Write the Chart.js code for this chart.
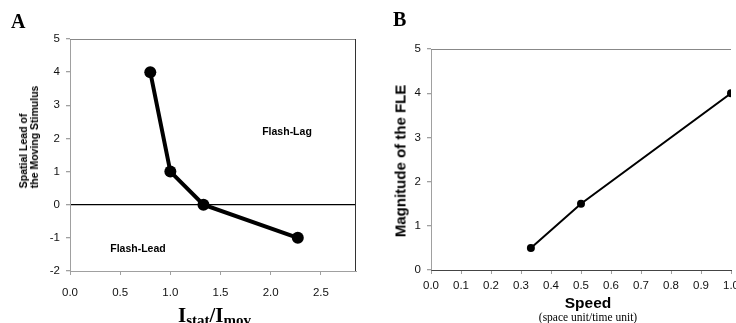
<!DOCTYPE html>
<html>
<head>
<meta charset="utf-8">
<script src="https://cdn.jsdelivr.net/npm/chart.js@4/dist/chart.umd.min.js"></script>
<style>
  body { margin: 0; background: #fff; }
  #wrap { position: relative; width: 736px; height: 323px; overflow: hidden; background: #fff; }
  canvas { position: absolute; top: 0; }
  .lbl { position: absolute; white-space: nowrap; color: #000; }
  .panel { font: bold 20px "Liberation Serif", serif; }
  .note { font: bold 10.5px "Liberation Sans", Arial, sans-serif; transform: translate(-50%, -50%); }
  .rot { transform: translate(-50%, -50%) rotate(-90deg); }
</style>
</head>
<body>
<div id="wrap">
  <canvas id="chartA" width="370" height="323" style="left:0"></canvas>
  <canvas id="chartB" width="400" height="323" style="left:370px"></canvas>

  <div class="lbl panel" style="left:11px; top:10px;">A</div>
  <div class="lbl panel" style="left:393px; top:8px;">B</div>

  <div class="lbl rot" style="left:29px; top:137px; text-align:left; font: bold 10.5px 'Liberation Sans', Arial, sans-serif; line-height: 11px;">Spatial Lead of<br>the Moving Stimulus</div>
  <div class="lbl" style="left:178px; top:303px; font: bold 21px 'Liberation Serif', serif;">I<span style="font-size:15px; position:relative; top:3px;">stat</span>/I<span style="font-size:15px; position:relative; top:3px;">mov</span></div>
  <div class="lbl note" style="left:287px; top:131px;">Flash-Lag</div>
  <div class="lbl note" style="left:138px; top:248px;">Flash-Lead</div>

  <div class="lbl rot" style="left:400px; top:161px; font: bold 15px 'Liberation Sans', Arial, sans-serif;">Magnitude of the FLE</div>
  <div class="lbl" style="left:588px; top:303px; transform: translate(-50%, -50%); font: bold 15.5px 'Liberation Sans', Arial, sans-serif;">Speed</div>
  <div class="lbl" style="left:588px; top:317px; transform: translate(-50%, -50%); font: 11.5px 'Liberation Serif', serif;">(space unit/time unit)</div>
</div>

<script>
// Panel A: intensity ratio vs spatial lead
const ratioA = [0.8, 1.0, 1.33, 2.27];
const leadA = [4, 1, 0, -1];

// Panel B: speed vs FLE magnitude
const speedB = [0.333, 0.5, 1.0];
const fleB = [0.5, 1.5, 4.0];

const tickFont = { family: "'Liberation Sans', Arial, sans-serif", size: 11.5 };
const axisGray = "#a0a0a0";

const toPoints = (xs, ys) => xs.map((x, i) => ({ x: x, y: ys[i] }));

// draws the frame lines on top and right of the plot
const framePlugin = {
  id: "frame",
  afterDraw: (chart, args, opts) => {
    const { ctx, chartArea } = chart;
    ctx.save();
    ctx.lineWidth = 1;
    ctx.strokeStyle = opts.top || axisGray;
    ctx.beginPath();
    ctx.moveTo(chartArea.left, chartArea.top + 0.5);
    ctx.lineTo(chartArea.right, chartArea.top + 0.5);
    ctx.stroke();
    if (opts.right) {
      ctx.strokeStyle = opts.right;
      ctx.beginPath();
      ctx.moveTo(chartArea.right - 0.5, chartArea.top);
      ctx.lineTo(chartArea.right - 0.5, chartArea.bottom);
      ctx.stroke();
    }
    ctx.restore();
  },
};

const makeChart = (id, cfg) => {
  const ctx = document.getElementById(id).getContext("2d");
  return new Chart(ctx, {
    type: "line",
    data: {
      datasets: [
        {
          data: cfg.points,
          borderColor: "#000",
          backgroundColor: "#000",
          borderWidth: cfg.lineWidth,
          pointRadius: cfg.pointRadius,
          pointBorderWidth: 0,
          tension: 0,
        },
      ],
    },
    options: {
      responsive: false,
      animation: false,
      layout: { padding: cfg.padding },
      plugins: {
        legend: { display: false },
        tooltip: { enabled: false },
        frame: cfg.frame,
      },
      scales: {
        x: {
          type: "linear",
          min: cfg.xMin,
          max: cfg.xMax,
          afterFit: (scale) => { scale.height = cfg.xHeight; },
          border: { color: cfg.xBorder, width: 1 },
          grid: { drawOnChartArea: false, tickLength: 4, color: axisGray },
          ticks: {
            stepSize: cfg.xStep,
            includeBounds: false,
            padding: cfg.xPad,
            color: "#111",
            font: tickFont,
            maxRotation: 0,
            callback: (v) => v.toFixed(1),
          },
        },
        y: {
          type: "linear",
          min: cfg.yMin,
          max: cfg.yMax,
          afterFit: (scale) => { scale.width = cfg.yWidth; },
          border: { color: axisGray, width: 1 },
          grid: {
            drawOnChartArea: cfg.zeroLine,
            tickLength: 4,
            tickColor: axisGray,
            color: (c) => (c.tick && c.tick.value === 0 ? "#000" : "rgba(0,0,0,0)"),
            lineWidth: 1.3,
          },
          ticks: {
            stepSize: 1,
            padding: 6,
            color: "#111",
            font: tickFont,
          },
        },
      },
    },
    plugins: [framePlugin],
  });
};

document.addEventListener("DOMContentLoaded", () => {
  makeChart("chartA", {
    points: toPoints(ratioA, leadA),
    lineWidth: 4,
    pointRadius: 6,
    padding: { top: 39, right: 14, left: 0, bottom: 0 },
    xMin: 0, xMax: 2.85, xStep: 0.5, xHeight: 52, xPad: 11, xBorder: axisGray,
    yMin: -2, yMax: 5, yWidth: 70,
    zeroLine: true,
    frame: { top: "#888", right: "#333" },
  });

  makeChart("chartB", {
    points: toPoints(speedB, fleB),
    lineWidth: 2,
    pointRadius: 4,
    padding: { top: 49, right: 39, left: 0, bottom: 0 },
    xMin: 0, xMax: 1.0, xStep: 0.1, xHeight: 53, xPad: 5, xBorder: "#444",
    yMin: 0, yMax: 5, yWidth: 61,
    zeroLine: false,
    frame: { top: "#888" },
  });
});
</script>
</body>
</html>
